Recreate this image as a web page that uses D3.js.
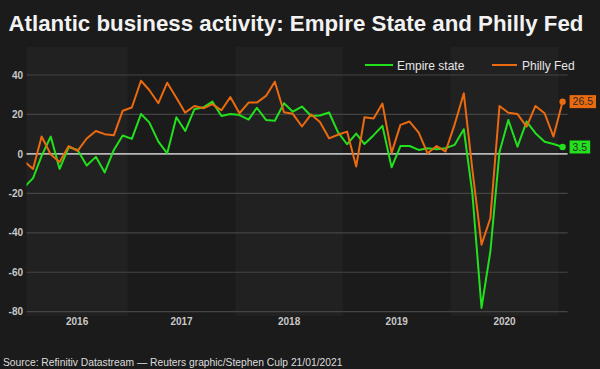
<!DOCTYPE html>
<html>
<head>
<meta charset="utf-8">
<script src="https://cdn.jsdelivr.net/npm/d3@7"></script>
<style>
  html, body { margin: 0; padding: 0; background: #1b1b1b; }
  svg { display: block; }
  text { font-family: "Liberation Sans", Arial, sans-serif; }
</style>
</head>
<body>
<script>
// ---------- DATA ----------
const seriesNames = ["Empire state", "Philly Fed"];
const empireState = [
  -17, -12.3, -1, 8.8, -7.6, 3.5, 2, -5.9, -1.5, -9.4, 2, 9.3,
  7.6, 20.2, 16, 6.2, 0.3, 18.6, 11.6, 22.6, 23.6, 26.5, 19.2, 20.2,
  19.7, 17.4, 23.4, 17.2, 16.8, 25.7, 21.4, 24, 19.2, 19.5, 21, 11,
  4.9, 10.3, 5, 9.5, 14.2, -6.8, 4, 4, 2, 2.9, 2.4, 2.9,
  4.6, 12.5, -20, -78.1, -49.5, 1, 17.2, 3.7, 16.4, 10.5, 6.2, 5,
  3.5
];
const phillyFed = [
  -3.6, -7.7, 8.8, -0.3, -4.1, 4, 1.5, 7.8, 11.6, 10, 9.4, 21.9,
  23.5, 37.1, 32.4, 25.7, 36.1, 28.5, 20.9, 24.3, 23.1, 25.2, 22.1, 28.8,
  20.6, 26, 26, 29.4, 36.6, 21.1, 20.3, 13.9, 20, 16.2, 7.9, 9.7,
  11.3, -6.4, 18.6, 17.9, 25.5, 0.5, 14.7, 16.4, 10.8, 0.3, 4, 1.2,
  15, 30.7, -8, -46, -32.6, 24.3, 20.9, 20.2, 13.8, 24.3, 20.6, 8.8,
  26.5
];
const yTicks = [40, 20, 0, -20, -40, -60, -80];
const yearLabels = ["2016", "2017", "2018", "2019", "2020"];
const lastLabels = ["3.5", "26.5"];
const titleText = "Atlantic business activity: Empire State and Philly Fed";
const sourceText = "Source: Refinitiv Datastream \u2014 Reuters graphic/Stephen Culp 21/01/2021";

// ---------- SETUP ----------
const W = 600, H = 369;
const colors = { green: "#22e01c", orange: "#eb6a10" };
const plot = { left: 26.5, right: 567.6, top: 47, bottom: 316 };

const months = d3.timeMonth.range(new Date(2016, 0, 1), new Date(2021, 1, 1))
  .map(d => d3.timeDay.offset(d, 14));

const x = d3.scaleTime()
  .domain([new Date(2016, 0, 1), new Date(2021, 1, 1)])
  .range([19.8, 567.6]);
const y = d3.scaleLinear().domain([-80, 40]).range([311.7, 75]);

const svg = d3.select("body").append("svg").attr("width", W).attr("height", H);
svg.append("rect").attr("width", W).attr("height", H).attr("fill", "#1b1b1b");

// year bands
const years = d3.range(2016, 2022);
years.forEach((yr, i) => {
  const x0 = Math.max(x(new Date(yr, 0, 1)), plot.left);
  const x1 = Math.min(x(new Date(yr + 1, 0, 1)), plot.right);
  if (x1 <= x0) return;
  if (yr % 2 === 0) {
    svg.append("rect")
      .attr("x", x0).attr("y", plot.top)
      .attr("width", x1 - x0).attr("height", plot.bottom - plot.top)
      .attr("fill", "#212121");
  }
  if (yearLabels.includes(String(yr))) {
    svg.append("text")
      .attr("x", (x0 + x1) / 2).attr("y", 324.5)
      .attr("text-anchor", "middle")
      .attr("font-size", 10).attr("font-weight", "bold")
      .attr("fill", "#c8c8c8")
      .text(String(yr));
  }
});

// grid + y labels
yTicks.forEach(t => {
  svg.append("line")
    .attr("x1", plot.left).attr("x2", plot.right)
    .attr("y1", y(t)).attr("y2", y(t))
    .attr("stroke", t === 0 ? "#b8b8b8" : "#444444")
    .attr("stroke-width", t === 0 ? 1.6 : 1.2);
  svg.append("text")
    .attr("x", 23).attr("y", y(t) + 3.6)
    .attr("text-anchor", "end")
    .attr("font-size", 10).attr("font-weight", "bold")
    .attr("fill", "#c8c8c8")
    .text(String(t));
});

// clip
svg.append("clipPath").attr("id", "clip")
  .append("rect").attr("x", plot.left).attr("y", 40)
  .attr("width", plot.right - plot.left).attr("height", 285);

const line = d3.line().x((d, i) => x(months[i])).y(d => y(d));
const g = svg.append("g").attr("clip-path", "url(#clip)");

g.append("path").datum(empireState).attr("d", line)
  .attr("fill", "none").attr("stroke", colors.green)
  .attr("stroke-width", 2).attr("stroke-linejoin", "round");
g.append("path").datum(phillyFed).attr("d", line)
  .attr("fill", "none").attr("stroke", colors.orange)
  .attr("stroke-width", 2).attr("stroke-linejoin", "round");

// end markers and labels
const ends = [
  { data: empireState, color: colors.green, label: lastLabels[0] },
  { data: phillyFed, color: colors.orange, label: lastLabels[1] }
];
ends.forEach(e => {
  const n = e.data.length - 1;
  const cx = x(months[n]), cy = y(e.data[n]);
  svg.append("circle").attr("cx", cx).attr("cy", cy).attr("r", 3.2).attr("fill", e.color);
  const grp = svg.append("g");
  const rect = grp.append("rect").attr("fill", e.color);
  const txt = grp.append("text")
    .attr("x", cx + 10).attr("y", cy + 3.8)
    .attr("font-size", 10.5).attr("fill", "#2a2a2a")
    .text(e.label);
  const tw = txt.node().getComputedTextLength();
  rect.attr("x", cx + 7).attr("y", cy - 6.5).attr("width", tw + 6).attr("height", 13);
});

// legend
const legend = [
  { name: seriesNames[0], color: colors.green, x1: 365, x2: 393, tx: 397 },
  { name: seriesNames[1], color: colors.orange, x1: 492, x2: 517, tx: 522 }
];
legend.forEach(l => {
  svg.append("line").attr("x1", l.x1).attr("x2", l.x2).attr("y1", 65).attr("y2", 65)
    .attr("stroke", l.color).attr("stroke-width", 2);
  svg.append("text").attr("x", l.tx).attr("y", 69.5)
    .attr("font-size", 12).attr("fill", "#e6e6e6").text(l.name);
});

// title & source
svg.append("text").attr("x", 8.5).attr("y", 31)
  .attr("font-size", 22.3).attr("font-weight", "bold").attr("fill", "#f2f2f2")
  .text(titleText);
svg.append("text").attr("x", 3).attr("y", 365.5)
  .attr("font-size", 10.3).attr("fill", "#dcdcdc")
  .text(sourceText);
</script>
</body>
</html>
